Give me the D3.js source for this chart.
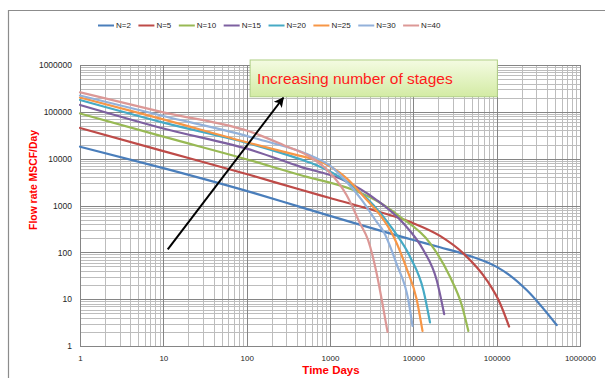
<!DOCTYPE html>
<html>
<head>
<meta charset="utf-8">
<script src="https://cdn.jsdelivr.net/npm/d3@7"></script>
<style>
  body { margin: 0; background: #fff; }
  svg { display: block; }
</style>
</head>
<body>
<svg id="chart" width="605" height="378"></svg>
<script>
// Production decline per number of fracture stages (time in days, rate in MSCF/Day)
const seriesNames = ["N=2", "N=5", "N=10", "N=15", "N=20", "N=25", "N=30", "N=40"];

const timeN2  = [1, 10, 126, 437, 1000, 10000, 20900, 43700, 100000, 145000, 229000, 525000];
const rateN2  = [18000, 6300, 1820, 933, 600, 183, 128, 88, 49, 32, 15.7, 2.8];

const timeN5  = [1, 10, 110, 437, 1000, 2750, 9120, 20900, 39800, 75900, 110000, 141000];
const rateN5  = [45200, 14500, 4470, 2190, 1445, 871, 447, 224, 95, 25.6, 8.1, 2.6];

const timeN10 = [1, 10, 126, 437, 1905, 3630, 6920, 15850, 27540, 38000, 45700];
const rateN10 = [92300, 29500, 8630, 4470, 2140, 1260, 575, 158, 30, 7.6, 2.1];

const timeN15 = [1, 10, 126, 437, 1445, 3630, 7590, 13180, 19050, 23440];
const rateN15 = [140000, 44000, 14450, 6760, 3510, 1310, 417, 112, 25.6, 4.8];

const timeN20 = [1, 10, 126, 437, 692, 1585, 3310, 5750, 9120, 13180, 15850];
const rateN20 = [179000, 58900, 19500, 9770, 7240, 3230, 1026, 300, 80.7, 15.7, 3.2];

const timeN25 = [1, 10, 110, 437, 692, 1585, 2750, 3980, 5750, 8320, 10960, 12880];
const rateN25 = [202000, 69200, 21400, 11500, 9330, 3800, 1320, 631, 224, 44.7, 10, 2.1];

const timeN30 = [1, 10, 126, 692, 1000, 1740, 2400, 3630, 4370, 6310, 8710, 9770];
const rateN30 = [223000, 81300, 27200, 10200, 7080, 2630, 1320, 447, 282, 56, 9.6, 2.7];

const timeN40 = [1, 10, 126, 275, 575, 1000, 1585, 2290, 2880, 3630, 4270, 4900];
const rateN40 = [261000, 97700, 34700, 19600, 11000, 5010, 1660, 417, 178, 35.5, 7.9, 2.0];

const xTicks = [1, 10, 100, 1000, 10000, 100000, 1000000];
const yTicks = [1, 10, 100, 1000, 10000, 100000, 1000000];

const annotationText = "Increasing number of stages";
const xTitle = "Time Days";
const yTitle = "Flow rate MSCF/Day";

const palette = ["#4a7ebb", "#be4b48", "#98b954", "#7d60a0", "#46aac5", "#f79646", "#93b1da", "#dc9896"];

const series = [
  [timeN2, rateN2], [timeN5, rateN5], [timeN10, rateN10], [timeN15, rateN15],
  [timeN20, rateN20], [timeN25, rateN25], [timeN30, rateN30], [timeN40, rateN40]
].map(([t, q], i) => ({ name: seriesNames[i], color: palette[i], points: t.map((d, j) => [d, q[j]]) }));

const svg = d3.select("#chart");
const W = 605, H = 378;
const plot = { left: 80, right: 580, top: 65, bottom: 346 };

const x = d3.scaleLog().domain([1, 1e6]).range([plot.left, plot.right]);
const y = d3.scaleLog().domain([1, 1e6]).range([plot.bottom, plot.top]);

// outer chart frame (only the left and top edges fall inside the view)
svg.append("path")
  .attr("d", `M8.5,${H} V10.5 H${W}`)
  .attr("fill", "none").attr("stroke", "#8c8c8c").attr("stroke-width", 1.2);

// log grid: minor lines first, decades on top
const gridVals = [];
for (let e = 0; e < 6; e++) for (let k = 1; k <= 9; k++) gridVals.push({ v: k * Math.pow(10, e), major: k === 1 });
gridVals.push({ v: 1e6, major: true });

const grid = svg.append("g");
[false, true].forEach(major => {
  const vals = gridVals.filter(d => d.major === major);
  const stroke = major ? "#858585" : "#bdbdbd";
  grid.selectAll(null).data(vals).enter().append("line")
    .attr("x1", d => Math.round(x(d.v)) + 0.5).attr("x2", d => Math.round(x(d.v)) + 0.5)
    .attr("y1", plot.top).attr("y2", plot.bottom)
    .attr("stroke", stroke).attr("stroke-width", 1);
  grid.selectAll(null).data(vals).enter().append("line")
    .attr("y1", d => Math.round(y(d.v)) + 0.5).attr("y2", d => Math.round(y(d.v)) + 0.5)
    .attr("x1", plot.left).attr("x2", plot.right)
    .attr("stroke", stroke).attr("stroke-width", 1);
});

svg.append("rect")
  .attr("x", plot.left + 0.5).attr("y", plot.top + 0.5)
  .attr("width", plot.right - plot.left).attr("height", plot.bottom - plot.top)
  .attr("fill", "none").attr("stroke", "#858585");

// axes (labels only)
const fmt = d3.format("d");
const xAxis = svg.append("g")
  .attr("transform", `translate(0,${plot.bottom})`)
  .call(d3.axisBottom(x).tickValues(xTicks).tickFormat(fmt).tickSize(0).tickPadding(9));
const yAxis = svg.append("g")
  .attr("transform", `translate(${plot.left},0)`)
  .call(d3.axisLeft(y).tickValues(yTicks).tickFormat(fmt).tickSize(0).tickPadding(8));
[xAxis, yAxis].forEach(a => {
  a.select(".domain").remove();
  a.selectAll("text").attr("fill", "#262626")
    .style("font-family", "'Liberation Sans', Arial, sans-serif");
});
xAxis.selectAll("text").style("font-size", "8px");
yAxis.selectAll("text").style("font-size", "8.5px");

// decline curves
const line = d3.line()
  .x(d => x(d[0])).y(d => y(d[1]))
  .curve(d3.curveMonotoneX);

svg.append("g").selectAll("path").data(series).enter().append("path")
  .attr("d", d => line(d.points))
  .attr("fill", "none")
  .attr("stroke", d => d.color)
  .attr("stroke-width", 2.2)
  .attr("stroke-linecap", "round");

// axis titles
svg.append("text")
  .attr("x", (plot.left + plot.right) / 2 + 1).attr("y", 374)
  .attr("text-anchor", "middle")
  .attr("fill", "#ff0000")
  .style("font-family", "'Liberation Sans', Arial, sans-serif")
  .style("font-weight", "bold").style("font-size", "11.5px")
  .text(xTitle);

svg.append("text")
  .attr("transform", `translate(37,180) rotate(-90)`)
  .attr("text-anchor", "middle")
  .attr("fill", "#ff0000")
  .style("font-family", "'Liberation Sans', Arial, sans-serif")
  .style("font-weight", "bold").style("font-size", "10.4px")
  .text(yTitle);

// legend
const legend = svg.append("g").attr("transform", "translate(98,25)");
let lx = 0;
series.forEach(s => {
  const g = legend.append("g").attr("transform", `translate(${lx},0)`);
  g.append("line").attr("x1", 0).attr("x2", 16).attr("y1", 0.5).attr("y2", 0.5)
    .attr("stroke", s.color).attr("stroke-width", 2);
  const t = g.append("text").attr("x", 18).attr("y", 3)
    .attr("fill", "#262626")
    .style("font-family", "'Liberation Sans', Arial, sans-serif")
    .style("font-size", "8px")
    .text(s.name);
  lx += 18 + t.node().getComputedTextLength() + 7.5;
});

// annotation box and arrow
const defs = svg.append("defs");
const grad = defs.append("linearGradient").attr("id", "boxFill")
  .attr("x1", 0).attr("y1", 0).attr("x2", 0).attr("y2", 1);
grad.append("stop").attr("offset", "0%").attr("stop-color", "#f4fbe2");
grad.append("stop").attr("offset", "100%").attr("stop-color", "#d3eba4");

defs.append("marker").attr("id", "arrowHead")
  .attr("viewBox", "0 0 10 10").attr("refX", 9).attr("refY", 5)
  .attr("markerWidth", 5).attr("markerHeight", 5).attr("orient", "auto")
  .append("path").attr("d", "M0,0 L10,5 L0,10 L2.5,5 Z").attr("fill", "#000");

const boxT0 = 110, boxT1 = 102000, boxQ0 = 1.28e6, boxQ1 = 2.1e5;
svg.append("rect")
  .attr("x", x(boxT0)).attr("y", y(boxQ0))
  .attr("width", x(boxT1) - x(boxT0)).attr("height", y(boxQ1) - y(boxQ0))
  .attr("fill", "url(#boxFill)").attr("stroke", "#b0cf86").attr("stroke-width", 1);

svg.append("text")
  .attr("x", x(boxT0) + 7).attr("y", y(boxQ1) - 13)
  .attr("fill", "#ff1a1a")
  .style("font-family", "'Liberation Sans', Arial, sans-serif")
  .style("font-size", "15.5px")
  .text(annotationText);

svg.append("line")
  .attr("x1", x(11.3)).attr("y1", y(116))
  .attr("x2", x(275)).attr("y2", y(200000))
  .attr("stroke", "#000").attr("stroke-width", 2)
  .attr("marker-end", "url(#arrowHead)");
</script>
</body>
</html>
